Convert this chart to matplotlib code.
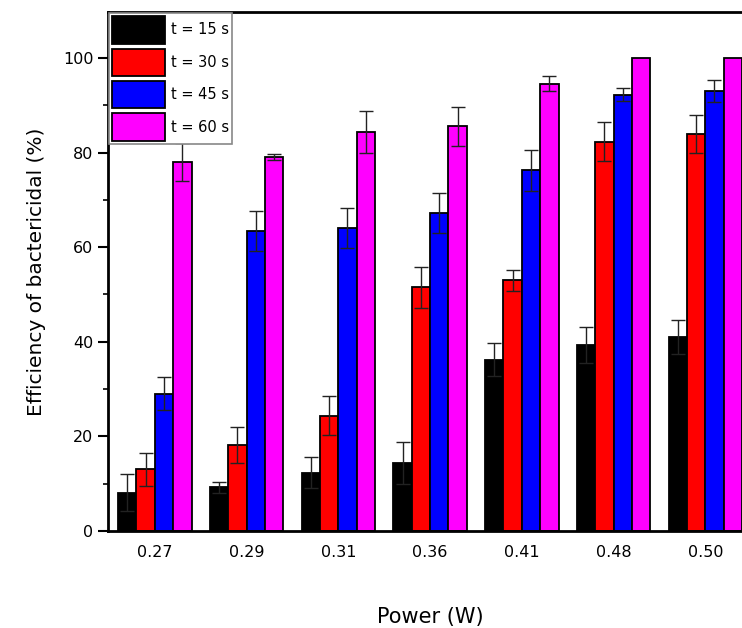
"""Efficiency of bactericidal vs power, grouped bars with error bars."""
import matplotlib
matplotlib.use("Agg")
import matplotlib.pyplot as plt
import numpy as np
from matplotlib.ticker import MultipleLocator

power_labels = ["0.27", "0.29", "0.31", "0.36", "0.41", "0.48", "0.50"]
series_names = ["t = 15 s", "t = 30 s", "t = 45 s", "t = 60 s"]
series_colors = ["#000000", "#ff0000", "#0000ff", "#ff00ff"]

eff_15 = [8.1, 9.2, 12.3, 14.4, 36.2, 39.3, 41.0]
err_15 = [3.9, 1.1, 3.3, 4.4, 3.5, 3.8, 3.6]
eff_30 = [13.0, 18.2, 24.4, 51.5, 53.0, 82.3, 84.0]
err_30 = [3.4, 3.8, 4.1, 4.3, 2.2, 4.2, 4.0]
eff_45 = [29.0, 63.4, 64.1, 67.2, 76.2, 92.2, 93.0]
err_45 = [3.5, 4.3, 4.2, 4.3, 4.3, 1.4, 2.4]
eff_60 = [78.0, 79.1, 84.3, 85.5, 94.5, 100.0, 100.0]
err_60 = [4.0, 0.6, 4.4, 4.1, 1.6, 0.0, 0.0]

values = [eff_15, eff_30, eff_45, eff_60]
errors = [err_15, err_30, err_45, err_60]

fig = plt.figure(figsize=(7.42, 6.28), dpi=100)
ax = fig.add_axes([0.1456, 0.1545, 0.868, 0.8264])

x = np.arange(len(power_labels))
w = 0.2
for i, (vals, errs) in enumerate(zip(values, errors)):
    pos = x + (i - 1.5) * w
    ax.bar(pos, vals, width=w, color=series_colors[i], edgecolor="black",
           linewidth=1.3, label=series_names[i])
    errs_plot = [e if e > 0 else np.nan for e in errs]
    ax.errorbar(pos, vals, yerr=errs_plot, fmt="none", ecolor="#222222",
                elinewidth=1.0, capsize=5, capthick=1.0)

ax.set_xlim(-0.51, len(power_labels) - 0.49)
ax.set_ylim(0, 109.7)
ax.set_xticks(x)
ax.set_xticklabels(power_labels)
ax.yaxis.set_major_locator(MultipleLocator(20))
ax.yaxis.set_minor_locator(MultipleLocator(10))
ax.tick_params(axis="x", length=0, labelsize=11.5, pad=10)
ax.tick_params(axis="y", which="major", direction="out", length=7, width=1.5, labelsize=11.5)
ax.tick_params(axis="y", which="minor", direction="out", length=3.5, width=1.2)
for s in ax.spines.values():
    s.set_linewidth(2)

ax.set_xlabel("Power (W)", fontsize=15, labelpad=34)
ax.set_ylabel("Efficiency of bactericidal (%)", fontsize=14.5, labelpad=12)

leg = ax.legend(loc="upper left", fontsize=10.5, handlelength=3.6, handleheight=2.5,
                borderaxespad=0.1, borderpad=0.2, labelspacing=0.35,
                handletextpad=0.4, fancybox=False, framealpha=1)
leg.get_frame().set_edgecolor("#888888")
leg.get_frame().set_linewidth(1.2)

fig.savefig("out.png", dpi=100)
